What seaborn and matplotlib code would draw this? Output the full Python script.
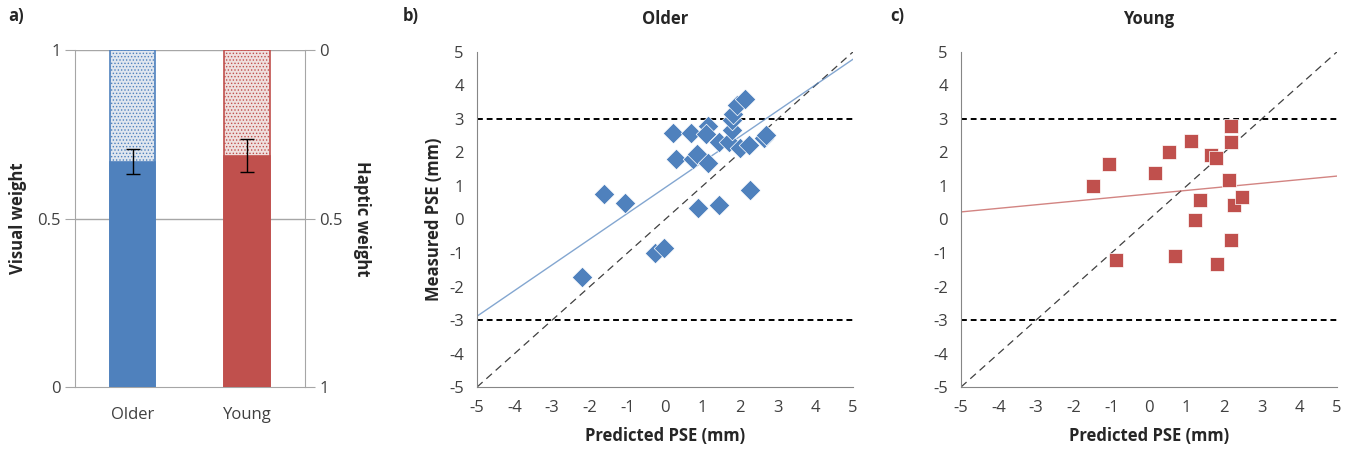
import numpy as np
import pandas as pd
import matplotlib
matplotlib.use("Agg")
import matplotlib.pyplot as plt
import seaborn as sns

# Panel a: visual weights per group
groups = ["Older", "Young"]
visual_weight = [0.669, 0.686]
visual_err = [0.038, 0.049]

# Panel b: older participants (predicted vs measured PSE)
older_pred = [-2.22, -1.62, -1.06, -0.26, -0.04, 0.20, 0.29, 0.69, 0.75, 0.84, 0.89,
              1.13, 1.09, 1.13, 1.44, 1.44, 1.71, 1.77, 1.77, 1.82, 1.91, 2.13, 1.99,
              2.22, 2.26, 2.63, 2.69]
older_meas = [-1.73, 0.75, 0.50, -1.00, -0.85, 2.57, 1.80, 2.57, 1.80, 1.95, 0.33,
              2.80, 2.55, 1.69, 2.32, 0.43, 2.32, 2.67, 2.96, 3.16, 3.41, 3.58, 2.12,
              2.22, 0.87, 2.42, 2.52]

# Panel c: young participants
young_pred = [-1.48, -1.07, -0.88, 0.17, 0.52, 0.70, 1.12, 1.36, 1.23, 1.64, 1.78,
              1.82, 2.19, 2.19, 2.14, 2.27, 2.47, 2.19]
young_meas = [1.01, 1.64, -1.20, 1.38, 2.00, -1.09, 2.35, 0.59, -0.02, 1.92, 1.84,
              -1.32, 2.79, 2.30, 1.17, 0.43, 0.67, -0.61]

ticks = list(range(-5, 6))

sns.set_style("white")
plt.rcParams['font.family'] = ['Open Sans', 'DejaVu Sans']
plt.rcParams['axes.unicode_minus'] = False
plt.rcParams['hatch.linewidth'] = 0.6

blue = "#4f81bd"
red = "#c0504d"
gray = "#a6a6a6"

fig = plt.figure(figsize=(13.59, 4.63), dpi=100)
ax_a = fig.add_axes([0.0552, 0.164, 0.1692, 0.728])
ax_b = fig.add_axes([0.351, 0.164, 0.2767, 0.724])
ax_c = fig.add_axes([0.7071, 0.164, 0.2767, 0.724])

# ---- Panel a
df_a = pd.DataFrame({"group": groups, "visual": visual_weight, "total": [1.0, 1.0]})
sns.barplot(data=df_a, x="group", y="total", hue="group", palette=["#dce6f2", "#f2dcdb"],
            width=0.4, legend=False, ax=ax_a, zorder=2)
for patch, c in zip(ax_a.patches, [blue, red]):
    patch.set_hatch(".....")
    patch.set_edgecolor(c)
    patch.set_linewidth(1.2)
n_top = len(ax_a.patches)
sns.barplot(data=df_a, x="group", y="visual", hue="group", palette=[blue, red],
            width=0.4, legend=False, ax=ax_a, saturation=1, zorder=3)
for patch, c in zip(ax_a.patches[n_top:], [blue, red]):
    patch.set_edgecolor(c)
    patch.set_linewidth(1.2)
ax_a.errorbar([0, 1], visual_weight, yerr=visual_err, fmt="none", ecolor="black",
              elinewidth=1, capsize=5, capthick=1, zorder=4)
ax_a.set_xlim(-0.5, 1.5)
ax_a.set_ylim(0, 1)
ax_a.set_yticks([0, 0.5, 1])
ax_a.set_yticklabels(["0", "0.5", "1"])
ax_a.set_xticks([0, 1])
ax_a.set_xticks([-0.5, 0.5, 1.5], minor=True)
ax_a.tick_params(axis="x", which="major", length=0, pad=14, labelsize=12, colors="#404040")
ax_a.tick_params(axis="x", which="minor", length=6, color=gray, direction="out")
ax_a.tick_params(axis="y", length=7, color=gray, labelsize=12, labelcolor="#404040", direction="out")
ax_a.set_xlabel("")
ax_a.set_ylabel("Visual weight", fontsize=12, fontweight="bold", labelpad=7)
for y in [0.5, 1.0]:
    ax_a.axhline(y, color=gray, lw=1, zorder=1)
for s in ["left", "right", "bottom"]:
    ax_a.spines[s].set_color(gray)
ax_a.spines["top"].set_visible(False)

ax_a2 = ax_a.twinx()
ax_a2.set_ylim(1, 0)
ax_a2.set_yticks([0, 0.5, 1])
ax_a2.set_yticklabels(["0", "0.5", "1"])
ax_a2.tick_params(axis="y", length=7, color=gray, labelsize=12, labelcolor="#404040", direction="out")
ax_a2.set_ylabel("Haptic weight", fontsize=12, fontweight="bold", rotation=270, labelpad=20)
for s in ["left", "right", "bottom", "top"]:
    ax_a2.spines[s].set_visible(False)


def scatter_panel(ax, x, y, marker, color, size, title, ylabel):
    ax.set_xlim(-5, 5)
    ax.set_ylim(-5, 5)
    ax.plot([-5, 5], [-5, 5], ls=(0, (6, 4)), color="#404040", lw=0.9, zorder=1)
    for h in [3, -3]:
        ax.axhline(h, ls=(0, (3, 2)), color="black", lw=1.4, zorder=1)
    df = pd.DataFrame({"pred": x, "meas": y})
    sns.regplot(data=df, x="pred", y="meas", scatter=False, ci=None, truncate=False,
                line_kws={"color": color, "lw": 1, "alpha": 0.7}, ax=ax)
    sns.scatterplot(data=df, x="pred", y="meas", marker=marker, color=color, s=size,
                    edgecolor="white", linewidth=0.5, ax=ax, zorder=3)
    ax.set_xlim(-5, 5)
    ax.set_ylim(-5, 5)
    ax.set_xticks(ticks)
    ax.set_yticks(ticks)
    ax.tick_params(length=6, color=gray, labelsize=12, labelcolor="#404040", direction="out")
    for s in ["top", "right"]:
        ax.spines[s].set_visible(False)
    for s in ["left", "bottom"]:
        ax.spines[s].set_color("#868686")
    ax.set_xlabel("Predicted PSE (mm)", fontsize=12, fontweight="bold", labelpad=8)
    ax.set_ylabel(ylabel, fontsize=12, fontweight="bold")
    ax.set_title(title, fontsize=12, fontweight="bold", pad=20)


scatter_panel(ax_b, older_pred, older_meas, "D", blue, 110, "Older", "Measured PSE (mm)")
scatter_panel(ax_c, young_pred, young_meas, "s", red, 110, "Young", "")

fig.text(0.006, 0.955, "a)", fontsize=12, fontweight="bold")
fig.text(0.296, 0.955, "b)", fontsize=12, fontweight="bold")
fig.text(0.655, 0.955, "c)", fontsize=12, fontweight="bold")

fig.savefig("out.png", dpi=100)
